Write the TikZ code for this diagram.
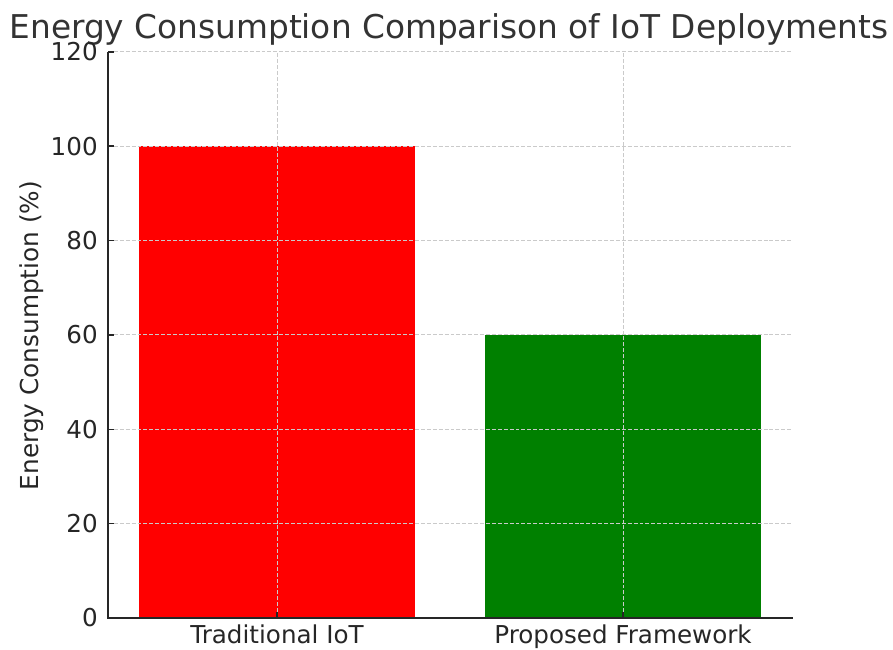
\documentclass[tikz,border=0pt]{standalone}
\usepackage{fontspec}
\setmainfont{DejaVu Sans}
\usepackage{xcolor}
\definecolor{chartText}{HTML}{262626}
\definecolor{chartTitle}{HTML}{333333}
\definecolor{chartGrid}{HTML}{CACACA}
\definecolor{barRed}{HTML}{FF0000}
\definecolor{barGreen}{HTML}{008000}
\usepackage{tikz}
\usetikzlibrary{positioning,calc}
\tikzset{
    gridline/.style={
        draw=chartGrid,
        line width=0.7pt,
        dash pattern=on 2.8pt off 1.4pt
    },
    spine/.style={
        draw=chartText,
        line width=1pt
    },
    ticklabel/.style={
        font=\fontsize{17.5}{21}\selectfont,
        text=chartText,
        inner sep=0pt
    },
    axislabel/.style={
        font=\fontsize{17.6}{21}\selectfont,
        text=chartText,
        inner sep=0pt
    },
    charttitle/.style={
        font=\fontsize{23.3}{28}\selectfont,
        text=chartTitle,
        inner sep=0pt
    }
}

\begin{document}
\begin{tikzpicture}[x=0.025cm, y=0.025cm]
    \useasboundingbox (0,0) rectangle (893,650);

    % Title and axis label
    \node[charttitle, anchor=base] (title) at (449,611) {Energy Consumption Comparison of IoT Deployments};
    \node[axislabel, rotate=90] (ylabel) at (32,314.5) {Energy Consumption (\%)};

    % Plot area, one y unit = 1%
    \begin{scope}[shift={(108,32)}, y=0.11792cm]
        % Bars
        \fill[barRed] (30.6,0) rectangle (307.4,100);
        \fill[barGreen] (376.6,0) rectangle (653.4,60);

        % Grid on top of bars
        \foreach \v in {20,40,...,120}
            \draw[gridline] (0,\v) -- (685,\v);
        \foreach \x in {169,515}
            \draw[gridline] (\x,0) -- (\x,120);

        % Spines
        \draw[spine] (0,120) -- (0,0) -- (685,0);

        % Y ticks
        \foreach \v in {0,20,...,120} {
            \draw[spine] (0,\v) -- ++(6,0);
            \node[ticklabel, anchor=east] (ytick\v) at (-10,\v) {\v};
        }

        % X ticks
        \draw[spine] (169,0) -- ++(0,1.3);
        \draw[spine] (515,0) -- ++(0,1.3);
        \node[ticklabel, anchor=base] (xtrad) at (169,-5.3) {Traditional IoT};
        \node[ticklabel, anchor=base] (xprop) at (515,-5.3) {Proposed Framework};
    \end{scope}
\end{tikzpicture}
\end{document}
